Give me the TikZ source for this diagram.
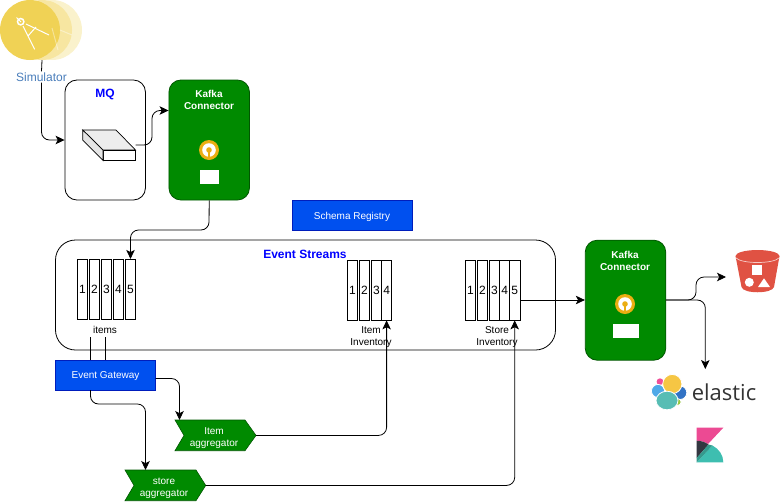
\documentclass[tikz,border=0pt]{standalone}
\usepackage{fontspec}
\setmainfont{Liberation Sans}
\newfontfamily\logofont{Open Sans}
\usetikzlibrary{arrows.meta}
\definecolor{kafkagreen}{HTML}{008A00}
\definecolor{kafkaline}{HTML}{005700}
\definecolor{ibmblue}{HTML}{0050EF}
\definecolor{ibmline}{HTML}{001DBC}
\definecolor{simgold}{HTML}{F0D255}
\definecolor{simblue}{HTML}{4A7EBB}
\definecolor{keygold}{HTML}{EBAE12}
\definecolor{bucketred}{HTML}{E05243}
\definecolor{elpink}{HTML}{F04E98}
\definecolor{elsky}{HTML}{4FA9E8}
\definecolor{elblue}{HTML}{3273C5}
\definecolor{elgreen}{HTML}{95C63D}
\definecolor{elyellow}{HTML}{F6C644}
\definecolor{elteal}{HTML}{57BDB4}
\definecolor{kbpink}{HTML}{EC4A93}
\definecolor{kbdark}{HTML}{343741}
\definecolor{kbteal}{HTML}{3EBEB0}
\definecolor{kbmid}{HTML}{359A8D}
\tikzset{
  flow/.style={line width=0.8pt,rounded corners=8pt,-{Stealth[length=9pt,width=8.5pt,inset=2.2pt]}},
  plainflow/.style={line width=0.8pt,rounded corners=8pt},
  box/.style={draw,line width=0.8pt,rounded corners=12pt,inner sep=0pt},
  connector/.style={draw=kafkaline,fill=kafkagreen,line width=0.8pt,rounded corners=12pt,inner sep=0pt,minimum width=80.5pt,minimum height=120pt},
  bluebox/.style={draw=ibmline,fill=ibmblue,inner sep=0pt},
  part/.style={draw,line width=0.8pt,fill=white,inner sep=0pt,minimum height=60pt,minimum width=10.4pt,font=\fontsize{12}{12}\selectfont},
  lbl/.style={align=center,inner sep=0pt,font=\fontsize{10}{12}\selectfont},
  title/.style={inner sep=0pt,text=blue,font=\fontsize{12}{14}\selectfont\bfseries},
  kafkatext/.style={align=center,inner sep=0pt,text=white,font=\fontsize{10}{12}\selectfont\bfseries},
  agg/.style={draw=kafkaline,fill=kafkagreen,line width=0.6pt},
  aggtext/.style={align=center,inner sep=0pt,text=white,font=\fontsize{10}{12}\selectfont},
  whitebox/.style={fill=white,inner sep=0pt},
  simdisc/.style={circle,minimum size=60pt,inner sep=0pt},
  blob/.style={draw=white,line width=0.8pt}
}
\newcommand{\keyicon}[2]{%
  \fill[keygold] (#1,#2) circle (10);
  \fill[white] (#1,#2) circle (6.8);
  \fill[keygold] (#1,#2) circle (2.8);
  \fill[keygold] (#1-1.3,#2) rectangle (#1+1.3,#2+7);
}
\begin{document}
\begin{tikzpicture}[x=1pt,y=-1pt]
  \useasboundingbox (0,0) rectangle (781,501);

  % simulator
  \node[simdisc,fill=simgold!30] (simc) at (52,30) {};
  \node[simdisc,fill=simgold!55] (simb) at (42,30) {};
  \node[simdisc,fill=simgold] (sima) at (30,30) {};
  \draw[white,line width=1pt] (16.5,17.5) -- (21,22);
  \draw[white,line width=1pt] (23,26) -- (34.7,49.3);
  \draw[white,line width=1pt] (26,24) -- (49,35);
  \draw[white,line width=1pt] (28,36) -- (36,27);
  \draw[white,line width=1.5pt] (20.7,21.7) circle (3.2);
  \draw[white,opacity=.4,line width=1pt] (60,30) -- (72,35);
  \draw[white,opacity=.4,line width=1pt] (52,28) -- (58,50);
  \node[fill=white,inner sep=1pt,text=simblue,font=\fontsize{12}{14}\selectfont] (simlabel) at (41.5,77) {Simulator};

  % MQ
  \node[box,minimum width=80.5pt,minimum height=120pt] (mq) at (105.2,140) {};
  \node[title] (mqtitle) at (105,94.5) {MQ};
  \filldraw[fill=white!93!black,draw=black,line width=0.7pt] (82.7,130) -- (116,130) -- (135.5,150) -- (103,150) -- cycle;
  \filldraw[fill=white,draw=black,line width=0.7pt] (103,150) -- (135.5,150) -- (135.5,160.5) -- (103,160.5) -- cycle;
  \filldraw[fill=white!90!black,draw=black,line width=0.7pt] (82.7,130) -- (103,150) -- (103,160.5) -- (82.7,140) -- cycle;
  \coordinate (mqout) at (135.5,145);

  % upper connector
  \node[connector] (kafkaa) at (209.2,140) {};
  \node[kafkatext] (kafkaatext) at (209,100) {Kafka\\Connector};
  \keyicon{209}{150}
  \node[whitebox,minimum width=19pt,minimum height=14pt] (kafkaabox) at (209.5,177) {};

  % registry
  \node[bluebox,minimum width=120pt,minimum height=30pt] (registry) at (352,215.2) {};
  \node[aggtext] (registrytext) at (352,216.7) {Schema Registry};

  % event streams
  \node[box,rounded corners=20pt,minimum width=500pt,minimum height=110pt] (streams) at (305.5,295) {};
  \node[title] (streamstitle) at (305,254) {Event Streams};

  \foreach \n/\x in {1/82.5,2/94.5,3/106.5,4/118.5,5/130.5}
    \node[part] (items\n) at (\x,289.3) {\n};
  \foreach \n/\x in {1/352.5,2/364.5,3/376.4,4/386.6}
    \node[part] (iteminv\n) at (\x,290) {\n};
  \foreach \n/\x in {1/470.5,2/482.5,3/494.4,4/504.6,5/514.7}
    \node[part] (storeinv\n) at (\x,290) {\n};
  \node[lbl] (itemslabel) at (105,330) {items};
  \node[lbl] (iteminvlabel) at (371,337) {Item\\Inventory};
  \node[lbl] (storeinvlabel) at (497,337) {Store\\Inventory};

  % gateway
  \node[bluebox,minimum width=100pt,minimum height=30pt] (gateway) at (105.5,375) {};
  \node[aggtext] (gatewaytext) at (105.5,376.5) {Event Gateway};

  % aggregators
  \draw[agg] (175,420) -- (245,420) -- (256,435.4) -- (245,450.7) -- (175,450.7) -- (184,435.4) -- cycle;
  \coordinate (itemaggtip) at (256,435.4);
  \coordinate (itemaggtop) at (179.5,420);
  \node[aggtext] (itemagg) at (214,438) {Item\\aggregator};
  \draw[agg] (125,470) -- (196,470) -- (205.7,485.4) -- (196,500.7) -- (125,500.7) -- (134,485.4) -- cycle;
  \coordinate (storeaggtip) at (205.7,485.4);
  \coordinate (storeaggtop) at (145.5,470);
  \node[aggtext] (storeagg) at (164,488) {store\\aggregator};

  % right connector
  \node[connector] (kafkab) at (625.5,300.2) {};
  \node[kafkatext] (kafkabtext) at (625,260.5) {Kafka\\Connector};
  \keyicon{625}{304}
  \node[whitebox,minimum width=26pt,minimum height=14pt] (kafkabbox) at (626,331) {};

  % bucket
  \fill[bucketred] (735.5,256) -- (741.5,287) .. controls (743,294) and (772,294) .. (774,287) -- (779.5,256) -- cycle;
  \fill[bucketred] (757.5,256) ellipse (22 and 6);
  \draw[white!70!bucketred,line width=0.7pt] (736,258) .. controls (742,264) and (773,264) .. (779,258);
  \fill[white] (752.3,265) rectangle (762.3,275);
  \fill[white] (749.3,282.3) circle (4.5);
  \fill[white] (764,278.3) -- (770,287) -- (758,287) -- cycle;
  \coordinate (bucketin) at (726,277);

  % elastic
  \fill[elpink] (660,381.7) circle (3.4);
  \filldraw[blob,fill=elsky] (658,391) circle (6.6);
  \filldraw[blob,fill=elblue] (680,392.7) circle (6.8);
  \filldraw[blob,fill=elgreen] (677.7,402) circle (3.4);
  \filldraw[blob,fill=elyellow] (672.3,384) circle (9.6);
  \filldraw[blob,fill=elteal] (667,400.5) ellipse (11 and 9.3);
  \node[inner sep=0pt,text=black!80,font=\logofont\fontsize{22}{24}\selectfont] (elastic) at (724,392) {elastic};
  \coordinate (elasticin) at (705.3,369);

  % kibana
  \fill[kbpink] (696.7,427.7) -- (723.3,427.7) -- (708,444) .. controls (705,442) and (701,440.7) .. (696.7,440.7) -- cycle;
  \fill[kbdark] (696.7,440.7) .. controls (701,440.7) and (705,442) .. (708.5,444.5) -- (696.7,458) -- cycle;
  \fill[kbteal] (696.7,462.3) -- (712.5,445.5) .. controls (719,449) and (723.3,455) .. (723.3,462.3) -- cycle;
  \fill[kbmid] (696.7,458) -- (708.5,444.5) -- (712.5,445.5) -- (696.7,462.3) -- cycle;

  % connectors
  \draw[plainflow] (simb.south) -- (simlabel.north);
  \draw[flow] (simlabel.south) -- (41.5,140) -- (mq.west |- 0,140);
  \draw[flow] (mqout) -- (152,145) -- (152,110.5) -- (kafkaa.west |- 0,110.5);
  \draw[flow] (kafkaa.south) -- (209,230) -- (130.5,230) -- (items5.north);
  \draw[plainflow] (90.5,337) -- (gateway.north -| 90.5,0);
  \draw[plainflow] (105,337) -- (gateway.north -| 105,0);
  \draw[flow] (gateway.south -| 90.5,0) -- (90.5,404) -- (145.5,404) -- (storeaggtop);
  \draw[flow] (gateway.east |- 0,378.5) -- (179.5,378.5) -- (itemaggtop);
  \draw[flow] (itemaggtip) -- (386.6,435.4) -- (iteminv4.south);
  \draw[flow] (storeaggtip) -- (514.7,485.4) -- (storeinv5.south);
  \draw[flow] (storeinv5.east |- 0,300) -- (kafkab.west |- 0,300);
  \draw[flow] (kafkab.east |- 0,300) -- (696,300) -- (696,277) -- (bucketin);
  \draw[flow] (kafkab.east |- 0,300) -- (705.3,300) -- (elasticin);
\end{tikzpicture}
\end{document}
